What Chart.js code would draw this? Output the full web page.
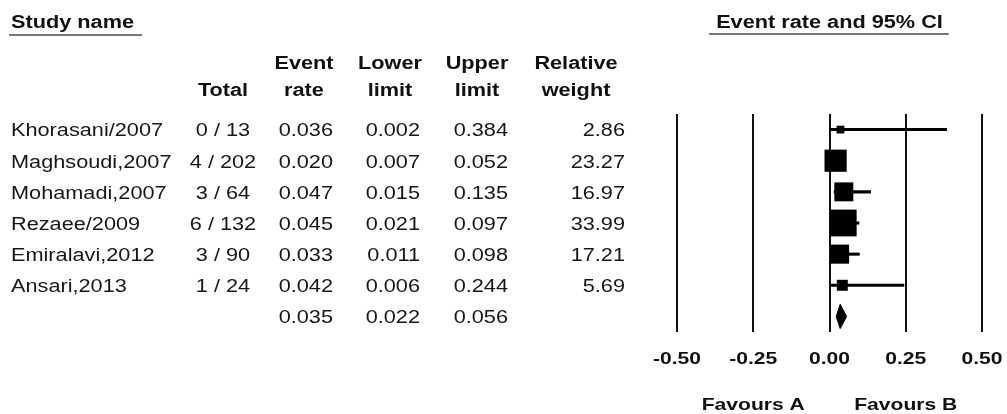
<!DOCTYPE html>
<html>
<head>
<meta charset="utf-8">
<script src="https://cdn.jsdelivr.net/npm/chart.js@4.4.1/dist/chart.umd.min.js"></script>
<style>
  html, body { margin: 0; padding: 0; background: #fff; }
  canvas { display: block; }
</style>
</head>
<body>
<canvas id="forest" width="1007" height="414"></canvas>
<script>
// Study table and forest plot data
const studies    = ['Khorasani/2007', 'Maghsoudi,2007', 'Mohamadi,2007', 'Rezaee/2009', 'Emiralavi,2012', 'Ansari,2013'];
const totals     = ['0 / 13', '4 / 202', '3 / 64', '6 / 132', '3 / 90', '1 / 24'];
const eventRate  = [0.036, 0.020, 0.047, 0.045, 0.033, 0.042];
const lowerLimit = [0.002, 0.007, 0.015, 0.021, 0.011, 0.006];
const upperLimit = [0.384, 0.052, 0.135, 0.097, 0.098, 0.244];
const relWeight  = [2.86, 23.27, 16.97, 33.99, 17.21, 5.69];
const pooledRate  = 0.035;
const pooledLower = 0.022;
const pooledUpper = 0.056;
const xTicks = [-0.50, -0.25, 0.00, 0.25, 0.50];
const favours = [{ value: -0.25, text: 'Favours A' }, { value: 0.25, text: 'Favours B' }];

// Row index of the pooled estimate (below the studies)
const pooledRow = studies.length;

// Text is drawn slightly widened, like the CMA output font
const SX = 1.24;
const FONT = '"Liberation Sans", Arial, sans-serif';

function drawText(ctx, s, x, y, align, bold, size, color) {
  ctx.save();
  ctx.font = (bold ? 'bold ' : '') + size + 'px ' + FONT;
  ctx.fillStyle = color || '#161616';
  ctx.textBaseline = 'middle';
  ctx.textAlign = 'left';
  const w = ctx.measureText(s).width * SX;
  const left = align === 'right' ? x - w : align === 'center' ? x - w / 2 : x;
  ctx.translate(left, y);
  ctx.scale(SX, 1);
  ctx.fillText(s, 0, 0);
  ctx.restore();
  return { left: left, right: left + w };
}

function underline(ctx, x1, x2, y) {
  ctx.save();
  ctx.strokeStyle = '#4a4a4a';
  ctx.lineWidth = 1.5;
  ctx.beginPath();
  ctx.moveTo(x1, y);
  ctx.lineTo(x2, y);
  ctx.stroke();
  ctx.restore();
}

// Column layout of the table on the left
const cols = {
  name:   { x: 11 },
  total:  { x: 223, head: 223 },
  rate:   { x: 333, head: 304 },
  lower:  { x: 420, head: 390 },
  upper:  { x: 508, head: 477 },
  weight: { x: 625, head: 576 }
};

const tablePlugin = {
  id: 'studyTable',
  afterDraw(chart) {
    const ctx = chart.ctx;
    const xs = chart.scales.x;
    const ys = chart.scales.y;
    const S = 17.5;

    // titles
    const t1 = drawText(ctx, 'Study name', cols.name.x, 23, 'left', true, S, '#111');
    underline(ctx, t1.left - 2, t1.right + 8, 35);
    const t2 = drawText(ctx, 'Event rate and 95% CI', xs.getPixelForValue(0), 23, 'center', true, S, '#111');
    underline(ctx, t2.left - 7, t2.right + 6, 34);

    // column headers
    const h1 = 64, h2 = 91;
    drawText(ctx, 'Total', cols.total.head, h2, 'center', true, S, '#111');
    drawText(ctx, 'Event', cols.rate.head, h1, 'center', true, S, '#111');
    drawText(ctx, 'rate', cols.rate.head, h2, 'center', true, S, '#111');
    drawText(ctx, 'Lower', cols.lower.head, h1, 'center', true, S, '#111');
    drawText(ctx, 'limit', cols.lower.head, h2, 'center', true, S, '#111');
    drawText(ctx, 'Upper', cols.upper.head, h1, 'center', true, S, '#111');
    drawText(ctx, 'limit', cols.upper.head, h2, 'center', true, S, '#111');
    drawText(ctx, 'Relative', cols.weight.head, h1, 'center', true, S, '#111');
    drawText(ctx, 'weight', cols.weight.head, h2, 'center', true, S, '#111');

    // study rows
    studies.forEach((name, i) => {
      const y = ys.getPixelForValue(i) + 2;
      drawText(ctx, name, cols.name.x, y, 'left', false, S);
      drawText(ctx, totals[i], cols.total.x, y, 'center', false, S);
      drawText(ctx, eventRate[i].toFixed(3), cols.rate.x, y, 'right', false, S);
      drawText(ctx, lowerLimit[i].toFixed(3), cols.lower.x, y, 'right', false, S);
      drawText(ctx, upperLimit[i].toFixed(3), cols.upper.x, y, 'right', false, S);
      drawText(ctx, relWeight[i].toFixed(2), cols.weight.x, y, 'right', false, S);
    });

    // pooled row
    const py = ys.getPixelForValue(pooledRow) + 2;
    drawText(ctx, pooledRate.toFixed(3), cols.rate.x, py, 'right', false, S);
    drawText(ctx, pooledLower.toFixed(3), cols.lower.x, py, 'right', false, S);
    drawText(ctx, pooledUpper.toFixed(3), cols.upper.x, py, 'right', false, S);

    // x axis tick labels and favours captions
    xs.ticks.forEach(t => {
      drawText(ctx, t.value.toFixed(2), xs.getPixelForValue(t.value), 359, 'center', true, 17, '#111');
    });
    favours.forEach(f => {
      drawText(ctx, f.text, xs.getPixelForValue(f.value), 405, 'center', true, 17, '#111');
    });
  }
};

// square side grows with the square root of the study weight
const squareSide = w => 4.6 * Math.sqrt(w);
const DIAMOND_HALF = 0.39;

new Chart(document.getElementById('forest'), {
  type: 'bar',
  data: {
    datasets: [
      {
        label: 'CI',
        data: studies.map((s, i) => ({ x: [lowerLimit[i], upperLimit[i]], y: i })),
        backgroundColor: '#000',
        borderWidth: 0,
        barThickness: 2.4,
        order: 3
      },
      {
        type: 'line',
        label: 'Event rate',
        data: studies.map((s, i) => ({ x: eventRate[i], y: i })),
        showLine: false,
        pointStyle: 'rect',
        pointRadius: c => squareSide(relWeight[c.dataIndex]) / Math.SQRT2,
        pointBackgroundColor: '#000',
        pointBorderWidth: 0,
        order: 1
      },
      {
        type: 'line',
        label: 'Pooled',
        data: [
          { x: pooledLower, y: pooledRow },
          { x: pooledRate,  y: pooledRow - DIAMOND_HALF },
          { x: pooledUpper, y: pooledRow },
          { x: pooledRate,  y: pooledRow + DIAMOND_HALF },
          { x: pooledLower, y: pooledRow }
        ],
        borderColor: '#000',
        borderWidth: 1,
        backgroundColor: '#000',
        fill: 'shape',
        tension: 0,
        pointRadius: 0,
        order: 1
      }
    ]
  },
  options: {
    indexAxis: 'y',
    responsive: false,
    animation: false,
    events: [],
    layout: { padding: { left: 677, right: 25, top: 114, bottom: 82 } },
    plugins: { legend: { display: false }, tooltip: { enabled: false } },
    scales: {
      x: {
        type: 'linear',
        min: -0.5,
        max: 0.5,
        afterBuildTicks: axis => { axis.ticks = xTicks.map(v => ({ value: v })); },
        ticks: { display: false },
        border: { display: false },
        grid: { color: '#111', lineWidth: 2, drawTicks: false }
      },
      y: {
        type: 'linear',
        min: -0.5,
        max: pooledRow + 0.5,
        reverse: true,
        offset: false,
        display: false
      }
    }
  },
  plugins: [tablePlugin]
});
</script>
</body>
</html>
